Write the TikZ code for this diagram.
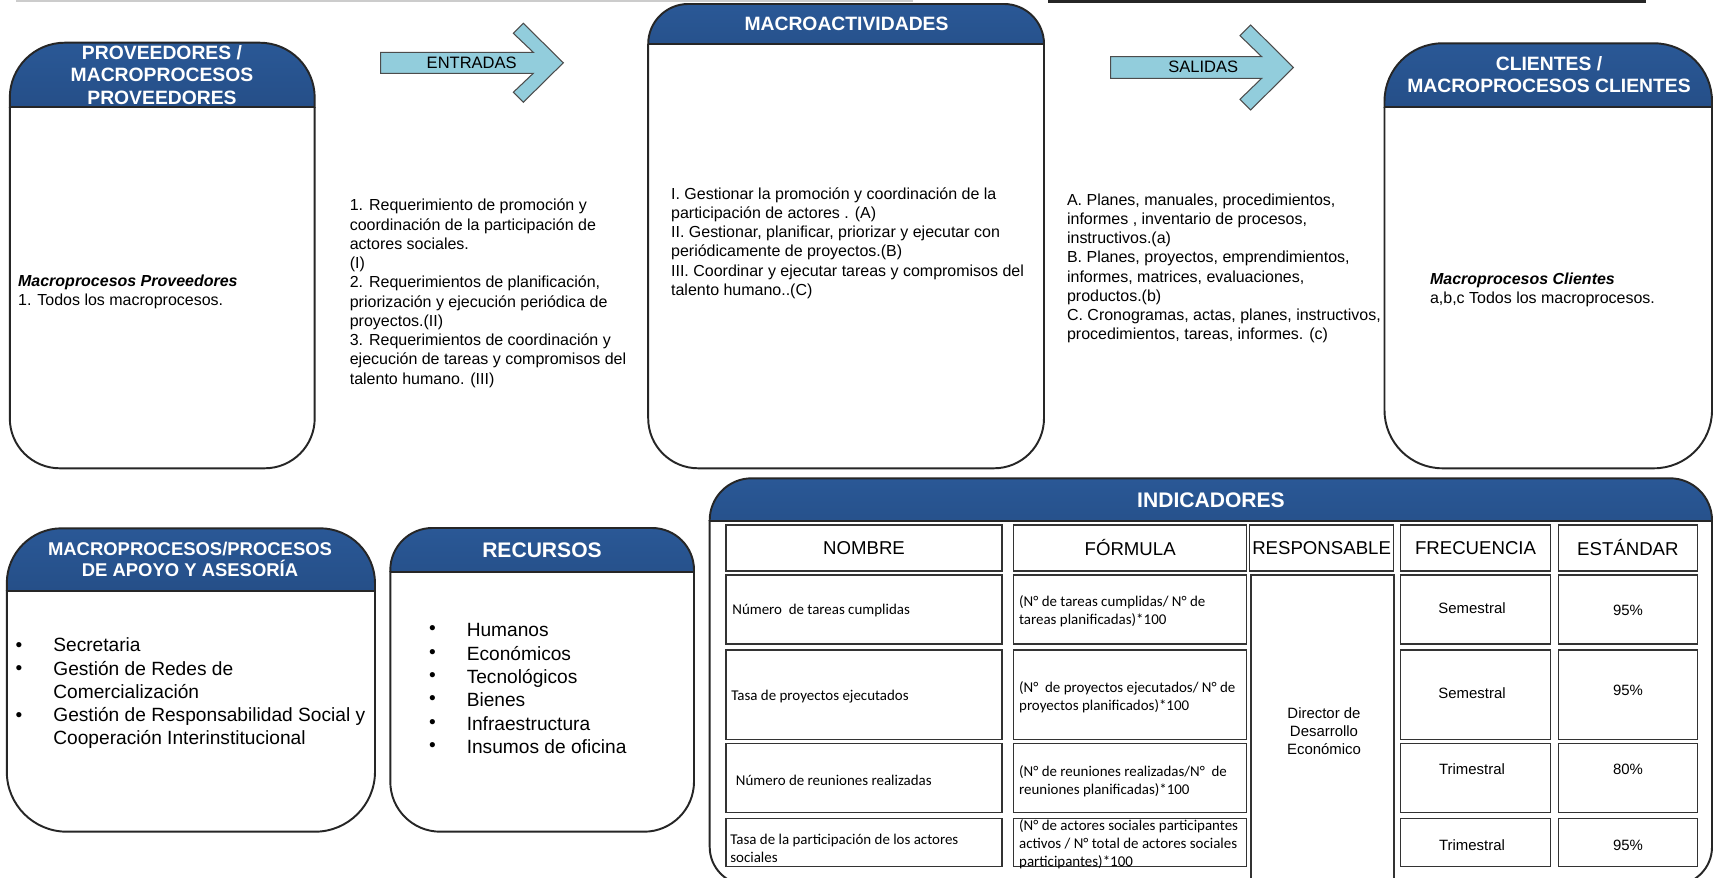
\documentclass[tikz,border=0pt]{standalone}
\usepackage{fontspec}
\setmainfont{Liberation Sans}
\newfontfamily\calibri{Carlito}
\usepackage{tikz}
\usetikzlibrary{positioning}
\definecolor{hdrtop}{RGB}{42,88,150}
\definecolor{hdrbot}{RGB}{22,50,92}
\definecolor{arrowblue}{RGB}{146,205,220}

% left, top, header bottom, right, bottom, top radius, bottom radius (all in px)
\newcommand{\procbox}[7]{%
  \begin{scope}
    \clip (#1-5,#2-5) rectangle (#4+5,#3);
    \shade[top color=hdrtop, bottom color=hdrbot, rounded corners=#6*0.02cm] (#1,#2) rectangle (#4,#3+200);
    \draw[boxline, rounded corners=#6*0.02cm] (#1,#2) rectangle (#4,#3+200);
  \end{scope}
  \begin{scope}
    \clip (#1-5,#3) rectangle (#4+5,#5+5);
    \draw[boxline, rounded corners=#7*0.02cm] (#1,#3-300) rectangle (#4,#5);
  \end{scope}
  \draw[hdrline] (#1,#3) -- (#4,#3);
}

\begin{document}
\begin{tikzpicture}[x=0.02cm, y=-0.02cm,
    boxline/.style={draw=black!85, line width=1.1pt},
    hdrline/.style={draw=black!85, line width=1.3pt},
    hdrtitle/.style={text=white, font=\bfseries\fontsize{11}{12.9}\selectfont, align=center, inner sep=0},
    bodytext/.style={font=\fontsize{9.1}{10.95}\selectfont, align=left, inner sep=0, anchor=west},
    listtext/.style={font=\fontsize{10.9}{13.2}\selectfont, align=left, inner sep=0, anchor=west},
    dot/.style={font=\fontsize{10.9}{13.2}\selectfont, inner sep=0},
    arrowtext/.style={font=\fontsize{9.4}{11}\selectfont, inner sep=0},
    blockarrow/.style={fill=arrowblue, draw=black!70, line width=0.6pt},
    cellbox/.style={draw=black!80, line width=0.7pt},
    colhead/.style={font=\fontsize{10.6}{12}\selectfont, inner sep=0},
    smalltext/.style={font=\calibri\fontsize{8.5}{10.2}\selectfont, align=left, inner sep=0, anchor=west},
    celltext/.style={font=\fontsize{8.5}{10.2}\selectfont, align=center, inner sep=0}
]
\useasboundingbox (0,0) rectangle (1714,878);
\fill[white] (0,0) rectangle (1714,878);
\clip (0,0) rectangle (1714,878);

\draw[black!20, line width=1.2pt] (16,1) -- (913,1);
\draw[black!85, line width=1.2pt] (1049,0) -- (1049,1.5) -- (1645,1.5) -- (1645,0);

\procbox{9.8}{42.7}{107.3}{314.7}{468.3}{55}{50}
\node[hdrtitle] (provtitle) at (162,75) {PROVEEDORES /\\MACROPROCESOS\\PROVEEDORES};
\node[bodytext] (provtext) at (17.8,292.2) {\textbf{\textit{Macroprocesos Proveedores}}\\1. Todos los macroprocesos.};

\draw[blockarrow] (380.7,52.3) -- (533.3,52.3) -- (513.3,33.3) -- (523.3,23.3) -- (563.3,62.8)
  -- (523.3,102.3) -- (513.3,92.3) -- (533.3,73.3) -- (380.7,73.3) -- cycle;
\node[arrowtext] (entradas) at (471.7,62.7) {ENTRADAS};
\node[bodytext] (entrtext) at (349.5,293.3) {1. Requerimiento de promoción y\\
coordinación de la participación de\\
actores sociales.\\
(I)\\
2. Requerimientos de planificación,\\
priorización y ejecución periódica de\\
proyectos.(II)\\
3. Requerimientos de coordinación y\\
ejecución de tareas y compromisos del\\
talento humano. (III)};

\procbox{648.2}{4}{44.3}{1044}{468.3}{40}{50}
\node[hdrtitle] (macrotitle) at (846.5,24) {MACROACTIVIDADES};
\node[bodytext] (macrotext) at (670.8,243) {I. Gestionar la promoción y coordinación de la\\
participación de actores . (A)\\
II. Gestionar, planificar, priorizar y ejecutar con\\
periódicamente de proyectos.(B)\\
III. Coordinar y ejecutar tareas y compromisos del\\
talento humano..(C)};

\draw[blockarrow] (1110.7,56.7) -- (1261.7,56.7) -- (1240,35.7) -- (1250.7,25) -- (1293.3,67.5)
  -- (1250.7,110) -- (1240,99.3) -- (1261.7,78.3) -- (1110.7,78.3) -- cycle;
\node[arrowtext] (salidas) at (1203.3,67.3) {SALIDAS};
\node[bodytext] (saltext) at (1066.7,268.3) {A. Planes, manuales, procedimientos,\\
informes , inventario de procesos,\\
instructivos.(a)\\
B. Planes, proyectos, emprendimientos,\\
informes, matrices, evaluaciones,\\
productos.(b)\\
C. Cronogramas, actas, planes, instructivos,\\
procedimientos, tareas, informes. (c)};

\procbox{1384.5}{43.3}{107.3}{1712}{468.3}{58}{58}
\node[hdrtitle] (clitle) at (1549,74.7) {CLIENTES /\\MACROPROCESOS CLIENTES};
\node[bodytext] (clitext) at (1429.7,290) {\textbf{\textit{Macroprocesos Clientes}}\\a,b,c Todos los macroprocesos.};

\procbox{6.8}{528.3}{590.7}{375}{831.7}{55}{60}
\node[hdrtitle, font=\bfseries\fontsize{10.5}{11.9}\selectfont] (apoyotitle) at (190,559.5) {MACROPROCESOS/PROCESOS\\DE APOYO Y ASESORÍA};
\foreach \yy [count=\i] in {646.7,670,717.3}
  \node[dot] (apdot\i) at (19,\yy) {\textbullet};
\node[listtext] (apoyotext) at (53,693.3) {Secretaria\\Gestión de Redes de\\Comercialización\\Gestión de Responsabilidad Social y\\Cooperación Interinstitucional};

\procbox{390.3}{528}{571.7}{694}{831.7}{42}{50}
\node[hdrtitle, font=\bfseries\fontsize{12}{14}\selectfont] (rectitle) at (542,550) {RECURSOS};
\foreach \yy [count=\i] in {630,654,677.3,700,724.3,747.3}
  \node[dot] (recdot\i) at (432.4,\yy) {\textbullet};
\node[listtext, font=\fontsize{10.9}{13.35}\selectfont] (rectext) at (466.4,688.7) {Humanos\\Económicos\\Tecnológicos\\Bienes\\Infraestructura\\Insumos de oficina};

\procbox{709.7}{478.3}{520.7}{1712}{885}{42}{38}
\node[hdrtitle, font=\bfseries\fontsize{12}{14}\selectfont] (inditle) at (1211,500.5) {INDICADORES};

\foreach \xa/\xb/\lab/\nm in {725.9/1002.1/NOMBRE/hn, 1013.7/1246.6/FÓRMULA/hf, 1249.8/1393.4/RESPONSABLE/hr, 1400.5/1550.6/FRECUENCIA/hq, 1558.3/1697.4/ESTÁNDAR/he}{
  \draw[cellbox] (\xa,525) rectangle (\xb,571);
  \node[colhead] (\nm) at ({(\xa+\xb)/2},548) {\lab};
}
\foreach \ya/\yb in {575/644, 650/739.3, 743.3/812.7, 818.3/866.7}{
  \draw[cellbox] (725.9,\ya) rectangle (1002.1,\yb);
  \draw[cellbox] (1013.7,\ya) rectangle (1246.6,\yb);
  \draw[cellbox] (1400.5,\ya) rectangle (1550.6,\yb);
  \draw[cellbox] (1558.3,\ya) rectangle (1697.4,\yb);
}
\draw[cellbox] (1251,575) rectangle (1394,900);

\node[smalltext] (n1) at (732,610.7) {Número\ \ de tareas cumplidas};
\node[smalltext] (n2) at (731,697) {Tasa de proyectos ejecutados};
\node[smalltext] (n3) at (735.6,780.7) {Número de reuniones realizadas};
\node[smalltext] (n4) at (730,848) {Tasa de la participación de los actores\\sociales};

\node[smalltext] (f1) at (1018.8,611) {(N° de tareas cumplidas/ N° de\\tareas planificadas)*100};
\node[smalltext] (f2) at (1018.8,697) {(N°\ \ de proyectos ejecutados/ N° de\\proyectos planificados)*100};
\node[smalltext] (f3) at (1018.8,781) {(N° de reuniones realizadas/N°\ \ de\\reuniones planificadas)*100};
\node[smalltext] (f4) at (1018.8,844.3) {(N° de actores sociales participantes\\activos / N° total de actores sociales\\participantes)*100};

\node[celltext] (resp) at (1324,731.5) {Director de\\Desarrollo\\Económico};

\foreach \yq/\ye/\fq/\st [count=\i] in {608/610.7/Semestral/95\%, 693/690/Semestral/95\%, 769/769/Trimestral/80\%, 845/845/Trimestral/95\%}{
  \node[celltext] (q\i) at (1472,\yq) {\fq};
  \node[celltext] (e\i) at (1628,\ye) {\st};
}
\end{tikzpicture}
\end{document}
